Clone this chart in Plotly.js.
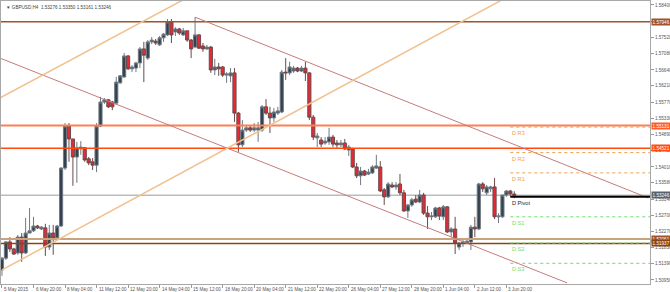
<!DOCTYPE html>
<html><head><meta charset="utf-8">
<script src="https://cdn.plot.ly/plotly-3.0.1.min.js"></script>
<style>html,body{margin:0;padding:0;background:#fff;}#chart{width:670px;height:292px;}</style>
</head><body><div id="chart"></div>
<script>
// ---- data (GBPUSD H4) ----
const symbolInfo = "\u25BC GBPUSD,H4  1.53276 1.53350 1.53161 1.53246";
const xLabels = ["5 May 2015","6 May 20:00","8 May 04:00","11 May 12:00","12 May 20:00","14 May 04:00","15 May 12:00","18 May 20:00","20 May 04:00","21 May 12:00","22 May 20:00","26 May 04:00","27 May 12:00","28 May 20:00","1 Jun 04:00","2 Jun 12:00","3 Jun 20:00"];
const xLabelBars = [0,8,16,24,32,40,48,56,64,72,80,88,96,104,112,120,128];

const openP = [1.5122,1.5154,1.5198,1.5179,1.5168,1.5211,1.5168,1.5222,1.5228,1.5241,1.5233,1.5236,1.5184,1.5222,1.5209,1.5241,1.5398,1.5512,1.5477,1.5428,
1.5450,1.5453,1.5423,1.5415,1.5406,1.5512,1.5577,1.5583,1.5577,1.5574,1.5629,1.5645,1.5702,1.5667,1.5669,1.5683,1.5721,1.5696,1.5740,1.5742,
1.5732,1.5751,1.5759,1.5794,1.5767,1.5775,1.5759,1.5770,1.5745,1.5726,1.5759,1.5729,1.5721,1.5726,1.5664,1.5672,1.5672,1.5650,1.5648,1.5656,
1.5547,1.5461,1.5501,1.5507,1.5501,1.5501,1.5501,1.5564,1.5547,1.5534,1.5547,1.5550,1.5658,1.5656,1.5661,1.5669,1.5661,1.5669,1.5656,1.5536,
1.5480,1.5474,1.5466,1.5469,1.5482,1.5466,1.5461,1.5466,1.5447,1.5450,1.5401,1.5377,1.5390,1.5382,1.5385,1.5398,1.5401,1.5339,1.5320,1.5352,
1.5347,1.5355,1.5331,1.5282,1.5298,1.5314,1.5306,1.5325,1.5276,1.5266,1.5266,1.5290,1.5266,1.5293,1.5225,1.5233,1.5184,1.5195,1.5195,1.5198,
1.5238,1.5233,1.5355,1.5331,1.5342,1.5347,1.5266,1.5266,1.5325,1.5336,1.53276];
const highP = [1.5157,1.5200,1.5211,1.5182,1.5217,1.5222,1.5263,1.5290,1.5266,1.5244,1.5241,1.5247,1.5244,1.5244,1.5244,1.5401,1.5520,1.5520,1.5477,1.5469,
1.5471,1.5455,1.5428,1.5425,1.5520,1.5591,1.5588,1.5585,1.5580,1.5645,1.5650,1.5710,1.5704,1.5677,1.5686,1.5726,1.5740,1.5745,1.5753,1.5748,
1.5756,1.5764,1.5802,1.5802,1.5780,1.5778,1.5778,1.5770,1.5748,1.5807,1.5761,1.5737,1.5732,1.5729,1.5694,1.5683,1.5675,1.5658,1.5669,1.5669,
1.5550,1.5528,1.5515,1.5515,1.5520,1.5523,1.5569,1.5585,1.5564,1.5561,1.5564,1.5664,1.5696,1.5686,1.5675,1.5672,1.5675,1.5686,1.5658,1.5542,
1.5493,1.5482,1.5482,1.5507,1.5488,1.5474,1.5474,1.5477,1.5461,1.5453,1.5412,1.5401,1.5393,1.5396,1.5406,1.5434,1.5417,1.5344,1.5360,1.5360,
1.5360,1.5382,1.5339,1.5301,1.5317,1.5325,1.5339,1.5331,1.5295,1.5279,1.5293,1.5293,1.5298,1.5295,1.5238,1.5266,1.5198,1.5203,1.5209,1.5244,
1.5266,1.5358,1.5360,1.5352,1.5350,1.5371,1.5276,1.5325,1.5339,1.5339,1.53350];
const lowP = [1.5106,1.5149,1.5171,1.5163,1.5163,1.5144,1.5165,1.5222,1.5225,1.5233,1.5230,1.5160,1.5176,1.5163,1.5203,1.5238,1.5393,1.5415,1.5350,1.5358,
1.5434,1.5415,1.5406,1.5393,1.5387,1.5509,1.5572,1.5561,1.5555,1.5569,1.5626,1.5642,1.5664,1.5658,1.5658,1.5669,1.5631,1.5691,1.5734,1.5732,
1.5729,1.5740,1.5756,1.5737,1.5756,1.5759,1.5756,1.5740,1.5696,1.5723,1.5721,1.5713,1.5718,1.5656,1.5650,1.5648,1.5645,1.5629,1.5631,1.5523,
1.5442,1.5455,1.5496,1.5496,1.5496,1.5469,1.5496,1.5542,1.5493,1.5523,1.5542,1.5547,1.5637,1.5650,1.5656,1.5658,1.5658,1.5634,1.5528,1.5474,
1.5455,1.5455,1.5461,1.5461,1.5455,1.5453,1.5455,1.5447,1.5431,1.5398,1.5371,1.5352,1.5377,1.5379,1.5382,1.5396,1.5333,1.5298,1.5317,1.5344,
1.5339,1.5325,1.5279,1.5263,1.5293,1.5303,1.5303,1.5271,1.5233,1.5257,1.5263,1.5257,1.5257,1.5222,1.5211,1.5165,1.5176,1.5184,1.5195,1.5176,
1.5211,1.5230,1.5333,1.5325,1.5333,1.5260,1.5249,1.5263,1.5320,1.5322,1.53161];
const closeP = [1.5154,1.5198,1.5179,1.5165,1.5211,1.5168,1.5222,1.5228,1.5241,1.5236,1.5238,1.5184,1.5222,1.5209,1.5241,1.5398,1.5512,1.5477,1.5428,1.5453,
1.5455,1.5420,1.5412,1.5406,1.5512,1.5577,1.5583,1.5564,1.5564,1.5631,1.5648,1.5702,1.5667,1.5672,1.5683,1.5721,1.5704,1.5740,1.5745,1.5737,
1.5751,1.5761,1.5794,1.5759,1.5775,1.5764,1.5770,1.5745,1.5721,1.5759,1.5723,1.5721,1.5726,1.5664,1.5672,1.5667,1.5650,1.5653,1.5656,1.5547,
1.5461,1.5501,1.5507,1.5501,1.5507,1.5507,1.5564,1.5547,1.5534,1.5550,1.5553,1.5658,1.5656,1.5672,1.5669,1.5661,1.5669,1.5656,1.5536,1.5482,
1.5485,1.5463,1.5471,1.5482,1.5463,1.5461,1.5466,1.5450,1.5455,1.5401,1.5377,1.5390,1.5379,1.5387,1.5401,1.5404,1.5336,1.5320,1.5355,1.5347,
1.5352,1.5331,1.5282,1.5298,1.5312,1.5306,1.5325,1.5276,1.5266,1.5268,1.5290,1.5268,1.5293,1.5225,1.5233,1.5195,1.5195,1.5198,1.5200,1.5238,
1.5233,1.5355,1.5342,1.5347,1.5347,1.5266,1.5268,1.5325,1.5336,1.5328,1.53246];

const yTickVals = [1.58400,1.57960,1.57520,1.57080,1.56640,1.56210,1.55770,1.55330,1.54890,1.54450,1.54010,1.53580,1.53140,1.52700,1.52270,1.51830,1.51390,1.50950];

const levelValues = [1.57946, 1.55131, 1.54521, 1.52061, 1.51937];
const bidValue = 1.53246;
const pivotNames = ["D R3","D R2","D R1","D Pivot","D S1","D S2","D S3"];
const pivotValues = [1.5509, 1.5440, 1.5385, 1.5320, 1.5266, 1.5195, 1.5140];
const pivotStartBar = 129;
// trend lines: [bar, price] start/end
const trendStart = [[-0.5,1.5696],[49,1.5807],[-0.5,1.5588],[0,1.5122]];
const trendEnd   = [[143.4,1.5087],[164,1.5317],[45.9,1.58535],[126.9,1.5854]];

// ---- styling ----
const levelColors = ["#a0522d","#ff7f50","#ff4a10","#c9a27e","#8b4513"];
const levelWidths = [1.5,2,1.5,2,1.5];
const levelLabelBg = ["#a0522d","#ff5a28","#ff4a10","#a0522d","#8b4513"];
const trendColors = ["#c77b7b","#c77b7b","#f0c08e","#f0c08e"];
const trendWidths = [1,1,1.5,1.5];
const pivotColors = ["#f0a050","#f0a050","#f0a050","#222222","#6fdc6f","#6fdc6f","#6fdc6f"];
const FONT = "Liberation Sans, Arial, sans-serif";
const FS = 4.6;

const bars = openP.map((_, i) => i);
const XR = [-0.25, 164.45];
const YR = [1.50839, 1.58508];

const shapes = [];
const annotations = [];

// bid line
shapes.push({type:"line", xref:"paper", yref:"y", x0:0, x1:1, y0:bidValue, y1:bidValue, line:{color:"#9a9a9a", width:1}, layer:"below"});
// horizontal levels
levelValues.forEach((v, i) => {
  shapes.push({type:"line", xref:"paper", yref:"y", x0:0, x1:1, y0:v, y1:v, line:{color:levelColors[i], width:levelWidths[i]}, layer:"above"});
});
// trend lines
trendStart.forEach((s, i) => {
  const e = trendEnd[i];
  shapes.push({type:"line", xref:"x", yref:"y", x0:s[0], y0:s[1], x1:e[0], y1:e[1], line:{color:trendColors[i], width:trendWidths[i]}, layer:"above"});
});
// pivots
pivotValues.forEach((v, i) => {
  const isP = pivotNames[i] === "D Pivot";
  shapes.push({type:"line", xref:"x", yref:"y", x0:pivotStartBar, x1:XR[1], y0:v, y1:v,
    line:{color: isP ? "#000" : pivotColors[i], width: isP ? 2 : 1, dash: isP ? "solid" : "dot"}, layer:"above"});
  annotations.push({xref:"x", yref:"y", x:pivotStartBar, y:v, text:pivotNames[i], showarrow:false,
    xanchor:"left", yanchor:"top", yshift:-1, font:{family:FONT, size:5.6, color:pivotColors[i]}});
});
// axis level labels
const axisLabels = levelValues.concat([bidValue]);
const axisBg = levelLabelBg.concat(["#56626c"]);
axisLabels.forEach((v, i) => {
  annotations.push({xref:"paper", yref:"y", x:1, y:v, text:v.toFixed(5), showarrow:false, xanchor:"left", yanchor:"middle",
    xshift:1, bgcolor:axisBg[i], borderpad:0.6, font:{family:FONT, size:FS, color:"#ffffff"}});
});
// x labels
xLabels.forEach((t, i) => {
  annotations.push({xref:"x", yref:"paper", x:xLabelBars[i], y:0, text:t, showarrow:false, xanchor:"left", yanchor:"top",
    xshift:0, yshift:-1, font:{family:FONT, size:FS, color:"#555"}});
});
// header
annotations.push({xref:"paper", yref:"paper", x:0, y:1, text:symbolInfo, showarrow:false, xanchor:"left", yanchor:"top",
  xshift:3, yshift:-2, font:{family:FONT, size:FS, color:"#444"}});

const trace = {
  type:"candlestick", x:bars, open:openP, high:highP, low:lowP, close:closeP,
  increasing:{line:{color:"#6f7a84", width:1}, fillcolor:"#34414d"},
  decreasing:{line:{color:"#6b4a4a", width:1}, fillcolor:"#e52a36"},
  whiskerwidth:0, hoverinfo:"skip"
};

const layout = {
  width:670, height:292,
  margin:{l:1, r:20, t:1, b:8, pad:0},
  paper_bgcolor:"#ffffff", plot_bgcolor:"#ffffff",
  showlegend:false,
  boxgap:0.2, boxgroupgap:0,
  xaxis:{range:XR, rangeslider:{visible:false}, showgrid:false, zeroline:false,
    showline:true, mirror:true, linecolor:"#a8a8a8", linewidth:1,
    tickmode:"array", tickvals:xLabelBars, ticktext:xLabels.map(()=>""), ticks:"outside", ticklen:3, tickcolor:"#999", showticklabels:false},
  yaxis:{range:YR, side:"right", showgrid:false, zeroline:false,
    showline:true, mirror:true, linecolor:"#a8a8a8", linewidth:1,
    tickmode:"array", tickvals:yTickVals, ticktext:yTickVals.map(v=>v.toFixed(5)),
    ticks:"outside", ticklen:3, tickcolor:"#999",
    tickfont:{family:FONT, size:FS, color:"#555"}},
  shapes:shapes, annotations:annotations
};

Plotly.newPlot("chart", [trace], layout, {staticPlot:true, displayModeBar:false});
</script>
</body></html>
